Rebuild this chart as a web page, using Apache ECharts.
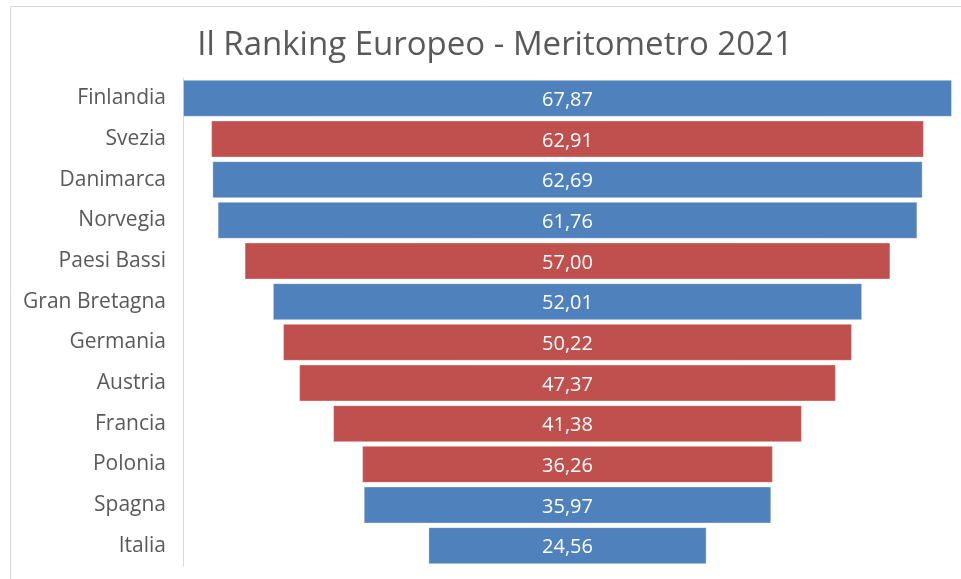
<!DOCTYPE html>
<html>
<head>
<meta charset="utf-8">
<script src="https://cdn.jsdelivr.net/npm/echarts@6/dist/echarts.min.js"></script>
<style>
  html,body{margin:0;padding:0;background:#fff;}
  #chart{width:961px;height:579px;}
</style>
</head>
<body>
<div id="chart"></div>
<script>
'use strict';

/* ---------- data ---------- */
const countries = ['Finlandia','Svezia','Danimarca','Norvegia','Paesi Bassi','Gran Bretagna',
  'Germania','Austria','Francia','Polonia','Spagna','Italia'];
const scores = [67.87,62.91,62.69,61.76,57.00,52.01,50.22,47.37,41.38,36.26,35.97,24.56];
const groups = ['b','r','b','b','r','b','r','r','r','r','b','b'];

const C = { blue:'#4F81BD', red:'#C0504D', text:'#595959', line:'#D9D9D9', font:'"Open Sans", Lato, sans-serif' };

const maxScore = Math.max(...scores);
// transparent spacer so every bar is centred
const spacer = scores.map(v => (maxScore - v) / 2);

const chart = echarts.init(document.getElementById('chart'));
chart.setOption({
  animation:false,
  title:{
    text:'Il Ranking Europeo - Meritometro 2021',
    left:490, top:24, textAlign:'center',
    textStyle:{color:C.text,fontFamily:C.font,fontSize:33,fontWeight:'normal'}
  },
  graphic:[{type:'rect',shape:{x:10.5,y:6.5,width:960,height:580},
    style:{fill:'none',stroke:'#D9D9D9',lineWidth:1},silent:true}],
  grid:{left:183,right:9,top:78,bottom:13},
  xAxis:{type:'value',min:0,max:maxScore,show:false},
  yAxis:{
    type:'category',data:countries,inverse:true,
    axisLine:{show:true,lineStyle:{color:C.line}},
    axisTick:{show:false},
    axisLabel:{color:C.text,fontFamily:C.font,fontSize:21,margin:17,padding:[4,0,0,0]}
  },
  series:[
    {type:'bar',stack:'f',data:spacer,itemStyle:{color:'transparent'},silent:true,barCategoryGap:'9%'},
    {type:'bar',stack:'f',barCategoryGap:'9%',
      data:scores.map((v,i)=>({value:v,itemStyle:{color:groups[i]==='r'?C.red:C.blue}})),
      itemStyle:{borderColor:'rgba(255,255,255,0.35)',borderWidth:1},
      label:{show:true,position:'inside',offset:[0,2],color:'#fff',fontFamily:C.font,fontSize:20,
        formatter:p=>p.value.toFixed(2).replace('.',',')}}
  ]
});
</script>
</body>
</html>
